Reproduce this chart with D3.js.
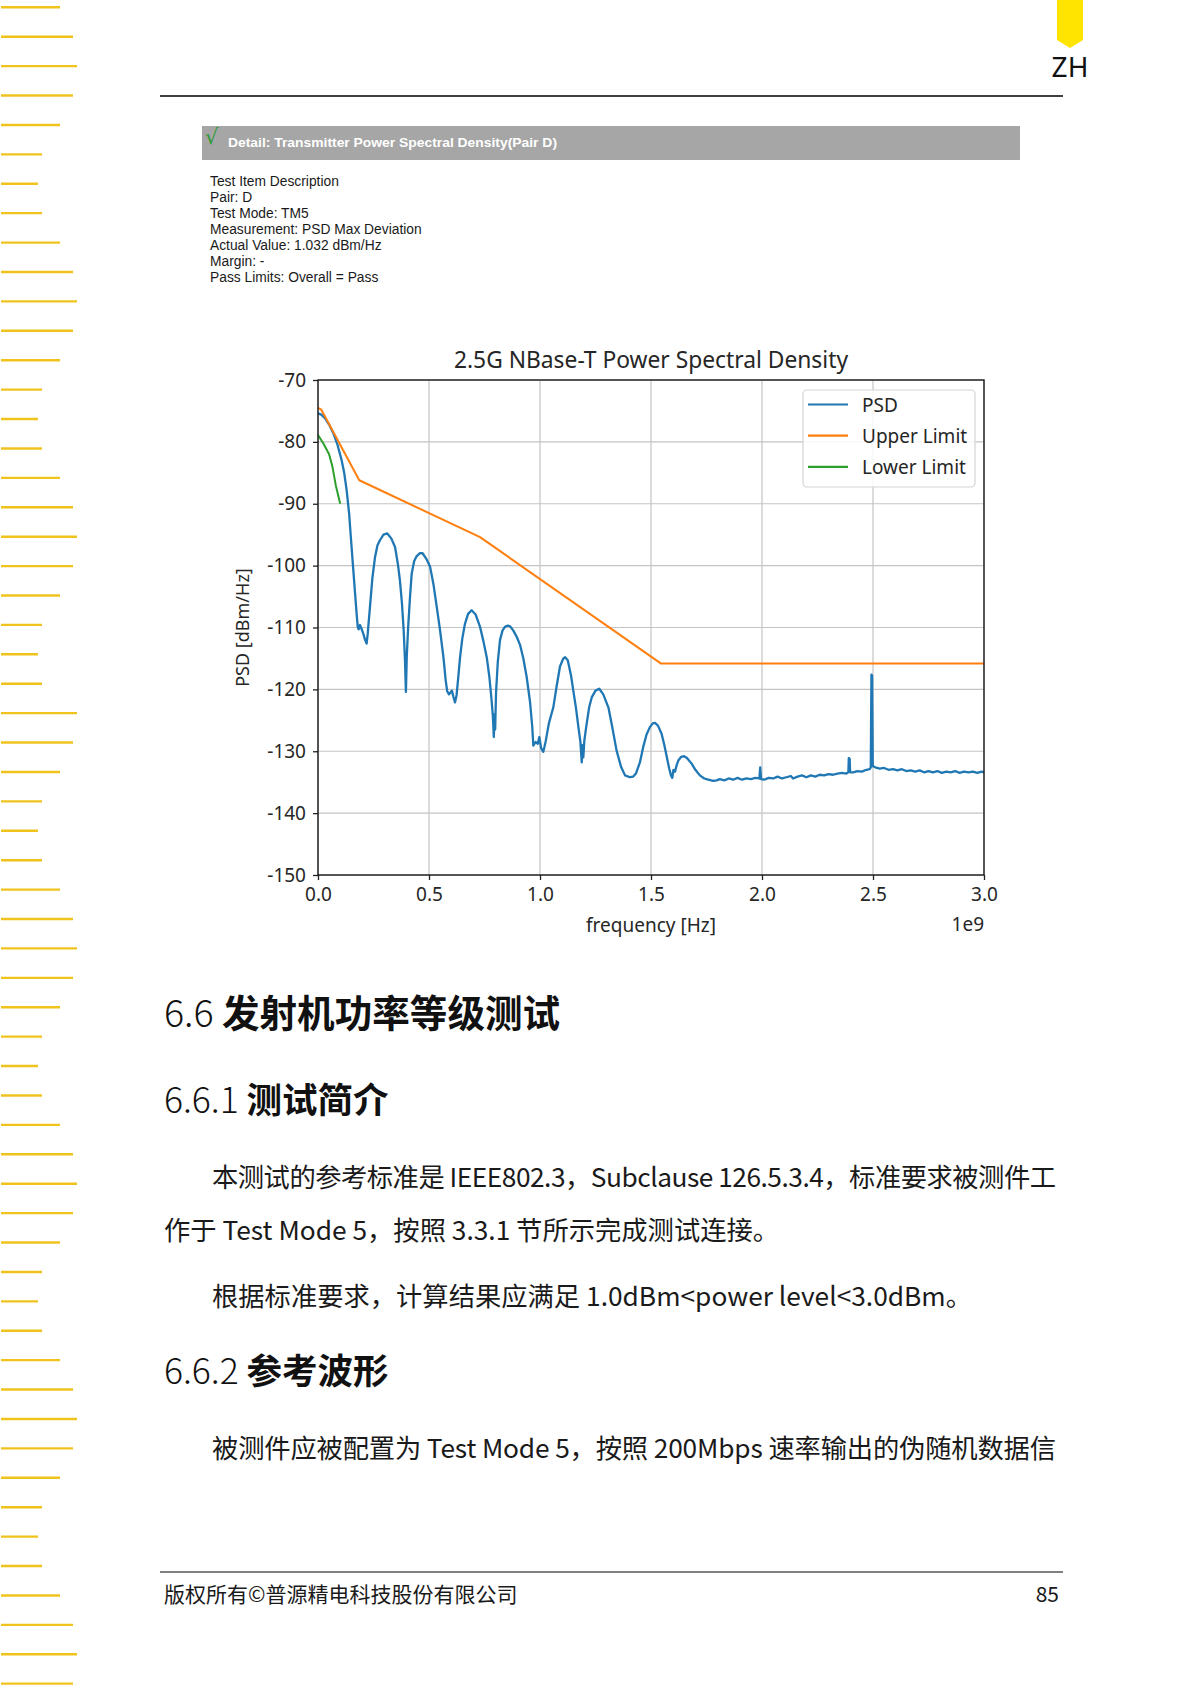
<!DOCTYPE html>
<html>
<head>
<meta charset="utf-8">
<script src="https://cdn.jsdelivr.net/npm/d3@7"></script>
<style>
  body { margin: 0; background: #fff; }
</style>
</head>
<body>
<script>
// ---- chart values (frequency in units of 1e9 Hz, PSD in dBm/Hz) ----
const xTicks = [0, 0.5, 1.0, 1.5, 2.0, 2.5, 3.0];
const xTickLabels = ['0.0', '0.5', '1.0', '1.5', '2.0', '2.5', '3.0'];
const yTicks = [-150, -140, -130, -120, -110, -100, -90, -80, -70];
const yTickLabels = ['-150', '-140', '-130', '-120', '-110', '-100', '-90', '-80', '-70'];
const seriesNames = ['PSD', 'Upper Limit', 'Lower Limit'];

const upperLimit = [
  [0, -74.5], [0.015, -74.8], [0.186, -86.2], [0.73, -95.4], [1.544, -115.8], [3.0, -115.8]
];

const lowerLimit = [
  [0, -78.9], [0.025, -80.3], [0.05, -82.0], [0.065, -84.0], [0.08, -87.0], [0.1, -90.0]
];

const psd = [
  [0.000, -75.4], [0.015, -75.6], [0.032, -76.2], [0.050, -77.2], [0.069, -78.6],
  [0.088, -80.5], [0.106, -82.9], [0.118, -85.0], [0.129, -87.8], [0.140, -91.5],
  [0.149, -95.9], [0.158, -100.2], [0.167, -104.5], [0.174, -107.8], [0.179, -109.9],
  [0.183, -110.3], [0.189, -109.6], [0.196, -110.2], [0.204, -111.0], [0.212, -112.0],
  [0.219, -112.6], [0.224, -111.0], [0.234, -106.7], [0.245, -102.0], [0.257, -98.6],
  [0.268, -96.7], [0.279, -95.9], [0.295, -95.0], [0.312, -94.8], [0.330, -95.6],
  [0.347, -97.0], [0.360, -99.8], [0.369, -102.4], [0.378, -106.0], [0.386, -110.5],
  [0.392, -115.5], [0.396, -120.4], [0.400, -114.5], [0.407, -109.4], [0.415, -104.8],
  [0.422, -101.3], [0.433, -99.3], [0.444, -98.5], [0.458, -98.0], [0.471, -98.0],
  [0.488, -98.9], [0.505, -100.2], [0.520, -103.0], [0.535, -106.7], [0.550, -110.5],
  [0.565, -114.8], [0.575, -118.5], [0.582, -120.3], [0.590, -120.8], [0.597, -120.5],
  [0.603, -120.2], [0.610, -121.2], [0.617, -122.1], [0.624, -121.0], [0.632, -118.0],
  [0.640, -114.8], [0.650, -111.8], [0.662, -109.4], [0.676, -107.8], [0.692, -107.2],
  [0.710, -107.9], [0.730, -109.9], [0.745, -112.2], [0.760, -114.8], [0.772, -118.0],
  [0.782, -121.8], [0.788, -124.5], [0.792, -127.7], [0.795, -124.0], [0.798, -126.5],
  [0.802, -120.5], [0.810, -115.5], [0.820, -112.0], [0.831, -110.5], [0.842, -109.9],
  [0.855, -109.7], [0.865, -109.8], [0.880, -110.5], [0.895, -111.5], [0.910, -112.8],
  [0.925, -115.0], [0.940, -118.0], [0.955, -122.0], [0.965, -126.0], [0.970, -129.1],
  [0.980, -128.5], [0.990, -128.8], [0.997, -127.7], [1.005, -129.5], [1.015, -130.1],
  [1.025, -128.5], [1.040, -125.5], [1.060, -122.9], [1.075, -119.5], [1.090, -116.3],
  [1.105, -115.0], [1.113, -114.8], [1.125, -115.3], [1.140, -117.8], [1.150, -120.2],
  [1.162, -123.0], [1.173, -126.1], [1.182, -128.5], [1.188, -131.8], [1.192, -129.0],
  [1.195, -131.0], [1.200, -128.2], [1.210, -125.6], [1.222, -122.8], [1.233, -121.3],
  [1.250, -120.2], [1.267, -119.9], [1.285, -120.8], [1.308, -122.9], [1.325, -126.0],
  [1.345, -129.9], [1.365, -132.5], [1.383, -133.9], [1.405, -134.2], [1.420, -134.1],
  [1.432, -133.6], [1.450, -131.8], [1.465, -129.3], [1.480, -127.3], [1.495, -126.1],
  [1.508, -125.5], [1.518, -125.4], [1.532, -125.9], [1.548, -127.2], [1.560, -129.0],
  [1.571, -130.9], [1.582, -132.8], [1.590, -133.9], [1.596, -134.3], [1.601, -133.0],
  [1.608, -133.3], [1.616, -132.2], [1.623, -131.5], [1.636, -130.9], [1.649, -130.8],
  [1.662, -131.1], [1.683, -132.0], [1.700, -133.0], [1.720, -133.9], [1.740, -134.4],
  [1.758, -134.6], [1.780, -134.8], [1.796, -134.7], [1.810, -134.5], [1.830, -134.7],
  [1.850, -134.4], [1.870, -134.6], [1.890, -134.3], [1.910, -134.6], [1.930, -134.4],
  [1.950, -134.5], [1.970, -134.3], [1.988, -134.4], [1.992, -132.6], [1.996, -134.5],
  [2.010, -134.6], [2.030, -134.3], [2.050, -134.4], [2.070, -134.1], [2.090, -134.4],
  [2.110, -134.2], [2.130, -134.0], [2.140, -134.4], [2.160, -134.1], [2.180, -133.9],
  [2.200, -134.2], [2.220, -133.9], [2.240, -134.1], [2.260, -133.8], [2.280, -133.9],
  [2.300, -133.7], [2.320, -133.8], [2.340, -133.6], [2.360, -133.5], [2.380, -133.6],
  [2.389, -133.4], [2.391, -131.1], [2.395, -131.2], [2.397, -133.4], [2.410, -133.4],
  [2.430, -133.2], [2.450, -133.3], [2.470, -133.0], [2.485, -132.9], [2.490, -132.6],
  [2.493, -117.6], [2.496, -117.8], [2.499, -132.4], [2.510, -132.6], [2.530, -132.8],
  [2.550, -132.7], [2.570, -133.0], [2.590, -132.9], [2.610, -133.1], [2.630, -132.9],
  [2.650, -133.2], [2.670, -133.1], [2.690, -133.3], [2.710, -133.1], [2.730, -133.4],
  [2.750, -133.2], [2.770, -133.4], [2.790, -133.2], [2.810, -133.5], [2.830, -133.3],
  [2.850, -133.4], [2.870, -133.2], [2.890, -133.5], [2.910, -133.3], [2.930, -133.4],
  [2.950, -133.3], [2.970, -133.5], [2.990, -133.3], [3.000, -133.4]
];

// ---- page texts ----
const infoLines = [
  'Test Item Description',
  'Pair: D',
  'Test Mode: TM5',
  'Measurement: PSD Max Deviation',
  'Actual Value: 1.032 dBm/Hz',
  'Margin: -',
  'Pass Limits: Overall = Pass'
];
const edgePattern = [59, 72, 76, 72, 59, 41, 37, 41];

const W = 1197, H = 1690;
const svg = d3.select('body').append('svg')
  .attr('width', W)
  .attr('height', H)
  .style('display', 'block');

// left edge yellow dashes
const edgeIdx = d3.range(58);
svg.append('g').selectAll('line')
  .data(edgeIdx)
  .join('line')
  .attr('x1', 1)
  .attr('x2', (i) => 1 + edgePattern[(i + (i < 24 ? 0 : 2)) % 8])
  .attr('y1', (i) => 7.3 + 29.41 * i)
  .attr('y2', (i) => 7.3 + 29.41 * i)
  .attr('stroke', '#f0c31c')
  .attr('stroke-width', 2.4);

// top right tag
svg.append('path')
  .attr('d', 'M1057,0 L1083,0 L1083,40 L1070,48 L1057,40 Z')
  .attr('fill', '#ffe400');
svg.append('text')
  .attr('x', 1070).attr('y', 66)
  .attr('text-anchor', 'middle')
  .attr('dominant-baseline', 'central')
  .attr('font-family', '"Noto Sans", sans-serif')
  .attr('font-size', 28)
  .attr('fill', '#111')
  .text('ZH');

// header and footer rules
svg.append('line').attr('x1', 160).attr('x2', 1063).attr('y1', 96).attr('y2', 96)
  .attr('stroke', '#000').attr('stroke-width', 1.5);
svg.append('line').attr('x1', 160).attr('x2', 1063).attr('y1', 1572).attr('y2', 1572)
  .attr('stroke', '#808080').attr('stroke-width', 2);

// detail banner
svg.append('rect')
  .attr('x', 202).attr('y', 126).attr('width', 818).attr('height', 34)
  .attr('fill', '#a6a6a6');
svg.append('text')
  .attr('x', 205).attr('y', 137)
  .attr('dominant-baseline', 'central')
  .attr('font-family', '"DejaVu Sans", sans-serif')
  .attr('font-size', 21)
  .attr('fill', '#2f9a35')
  .text('√');
svg.append('text')
  .attr('x', 228).attr('y', 143)
  .attr('dominant-baseline', 'central')
  .attr('font-family', '"Liberation Sans", Arial, sans-serif')
  .attr('font-weight', 'bold')
  .attr('font-size', 12.5)
  .attr('fill', '#fff')
  .attr('textLength', 329)
  .attr('lengthAdjust', 'spacingAndGlyphs')
  .text('Detail: Transmitter Power Spectral Density(Pair D)');

svg.append('g').selectAll('text')
  .data(infoLines)
  .join('text')
  .attr('x', 210)
  .attr('y', (d, i) => 181 + 16.1 * i)
  .attr('dominant-baseline', 'central')
  .attr('font-family', '"Liberation Sans", Arial, sans-serif')
  .attr('font-size', 13.8)
  .attr('fill', '#1a1a1a')
  .text((d) => d);

// ---- the chart ----
const x = d3.scaleLinear().domain([0, 3]).range([318, 984]);
const y = d3.scaleLinear().domain([-150, -70]).range([875, 380]);
const chartFont = '"Noto Sans", "Open Sans", sans-serif';

const grid = svg.append('g');
grid.selectAll('line.gx')
  .data(xTicks)
  .join('line')
  .attr('class', 'gx')
  .attr('x1', (d) => x(d)).attr('x2', (d) => x(d))
  .attr('y1', y(-150)).attr('y2', y(-70))
  .attr('stroke', '#c4c4c4').attr('stroke-width', 1.2);
grid.selectAll('line.gy')
  .data(yTicks)
  .join('line')
  .attr('class', 'gy')
  .attr('x1', x(0)).attr('x2', x(3))
  .attr('y1', (d) => y(d)).attr('y2', (d) => y(d))
  .attr('stroke', '#c4c4c4').attr('stroke-width', 1.2);

const line = d3.line()
  .x((d) => x(d[0]))
  .y((d) => y(d[1]));

const colors = ['#1f77b4', '#ff7f0e', '#2ca02c'];
[psd, upperLimit, lowerLimit].forEach((series, i) => {
  svg.append('path')
    .datum(series)
    .attr('d', line)
    .attr('fill', 'none')
    .attr('stroke', colors[i])
    .attr('stroke-width', i === 0 ? 2.3 : 2)
    .attr('stroke-linejoin', 'round');
});

// axes
const xAxis = d3.axisBottom(x)
  .tickValues(xTicks)
  .tickFormat((d, i) => xTickLabels[i])
  .tickSize(5)
  .tickPadding(8);
const yAxis = d3.axisLeft(y)
  .tickValues(yTicks)
  .tickFormat((d, i) => yTickLabels[i])
  .tickSize(5)
  .tickPadding(7);

const gx = svg.append('g').attr('transform', `translate(0,${y(-150)})`).call(xAxis);
const gy = svg.append('g').attr('transform', `translate(${x(0)},0)`).call(yAxis);
[gx, gy].forEach((g) => {
  g.select('.domain').remove();
  g.selectAll('.tick line').attr('stroke', '#222').attr('stroke-width', 1.3);
  g.selectAll('.tick text')
    .attr('font-family', chartFont)
    .attr('font-size', 19)
    .attr('fill', '#262626');
});

// frame
svg.append('rect')
  .attr('x', x(0)).attr('y', y(-70))
  .attr('width', x(3) - x(0)).attr('height', y(-150) - y(-70))
  .attr('fill', 'none')
  .attr('stroke', '#1a1a1a')
  .attr('stroke-width', 1.4);

svg.append('text')
  .attr('x', (x(0) + x(3)) / 2).attr('y', 359)
  .attr('text-anchor', 'middle')
  .attr('dominant-baseline', 'central')
  .attr('font-family', chartFont)
  .attr('font-size', 22.8)
  .attr('fill', '#262626')
  .text('2.5G NBase-T Power Spectral Density');

svg.append('text')
  .attr('x', (x(0) + x(3)) / 2).attr('y', 925)
  .attr('text-anchor', 'middle')
  .attr('dominant-baseline', 'central')
  .attr('font-family', chartFont)
  .attr('font-size', 19)
  .attr('fill', '#262626')
  .text('frequency [Hz]');

svg.append('text')
  .attr('x', x(3)).attr('y', 924)
  .attr('text-anchor', 'end')
  .attr('dominant-baseline', 'central')
  .attr('font-family', chartFont)
  .attr('font-size', 19)
  .attr('fill', '#262626')
  .text('1e9');

svg.append('text')
  .attr('transform', `translate(242,${(y(-70) + y(-150)) / 2}) rotate(-90)`)
  .attr('text-anchor', 'middle')
  .attr('dominant-baseline', 'central')
  .attr('font-family', chartFont)
  .attr('font-size', 18)
  .attr('fill', '#262626')
  .text('PSD [dBm/Hz]');

// legend
const legend = svg.append('g');
legend.append('rect')
  .attr('x', 803).attr('y', 390).attr('width', 172).attr('height', 97)
  .attr('rx', 4)
  .attr('fill', '#fff').attr('fill-opacity', 0.85)
  .attr('stroke', '#d4d4d4').attr('stroke-width', 1.2);
const items = legend.selectAll('g.item')
  .data(seriesNames)
  .join('g')
  .attr('class', 'item')
  .attr('transform', (d, i) => `translate(0,${404.5 + 31.2 * i})`);
items.append('line')
  .attr('x1', 808).attr('x2', 848)
  .attr('stroke', (d, i) => colors[i])
  .attr('stroke-width', 2.2);
items.append('text')
  .attr('x', 862)
  .attr('dominant-baseline', 'central')
  .attr('font-family', chartFont)
  .attr('font-size', 19)
  .attr('fill', '#262626')
  .text((d) => d);

// ---- document text below the chart ----
const cjk = '"Noto Sans CJK SC", "Noto Sans", sans-serif';

function heading(num, title, yy, size) {
  const t = svg.append('text')
    .attr('x', 164).attr('y', yy)
    .attr('dominant-baseline', 'central')
    .attr('font-family', cjk)
    .attr('font-size', size)
    .attr('fill', '#111');
  t.append('tspan').attr('font-weight', 300).text(num + ' ');
  t.append('tspan').attr('font-weight', 'bold').text(title);
}
heading('6.6', '发射机功率等级测试', 1010, 37.6);
heading('6.6.1', '测试简介', 1097, 35.5);
heading('6.6.2', '参考波形', 1368, 35.5);

const bodyLines = [
  { text: '本测试的参考标准是 IEEE802.3，Subclause 126.5.3.4，标准要求被测件工', x: 212, y: 1175, w: 844 },
  { text: '作于 Test Mode 5，按照 3.3.1 节所示完成测试连接。', x: 164, y: 1228, w: 0 },
  { text: '根据标准要求，计算结果应满足 1.0dBm<power level<3.0dBm。', x: 212, y: 1294, w: 0 },
  { text: '被测件应被配置为 Test Mode 5，按照 200Mbps 速率输出的伪随机数据信', x: 212, y: 1446, w: 844 }
];
bodyLines.forEach((b) => {
  const t = svg.append('text')
    .attr('x', b.x).attr('y', b.y)
    .attr('dominant-baseline', 'central')
    .attr('font-family', cjk)
    .attr('font-size', 26.3)
    .attr('fill', '#1a1a1a')
    .text(b.text);
  if (b.w) t.attr('textLength', b.w).attr('lengthAdjust', 'spacing');
});

// footer
svg.append('text')
  .attr('x', 164).attr('y', 1593)
  .attr('dominant-baseline', 'central')
  .attr('font-family', cjk)
  .attr('font-size', 21)
  .attr('fill', '#1a1a1a')
  .text('版权所有©普源精电科技股份有限公司');
svg.append('text')
  .attr('x', 1059).attr('y', 1593)
  .attr('text-anchor', 'end')
  .attr('dominant-baseline', 'central')
  .attr('font-family', cjk)
  .attr('font-size', 21)
  .attr('fill', '#1a1a1a')
  .text('85');
</script>
</body>
</html>
